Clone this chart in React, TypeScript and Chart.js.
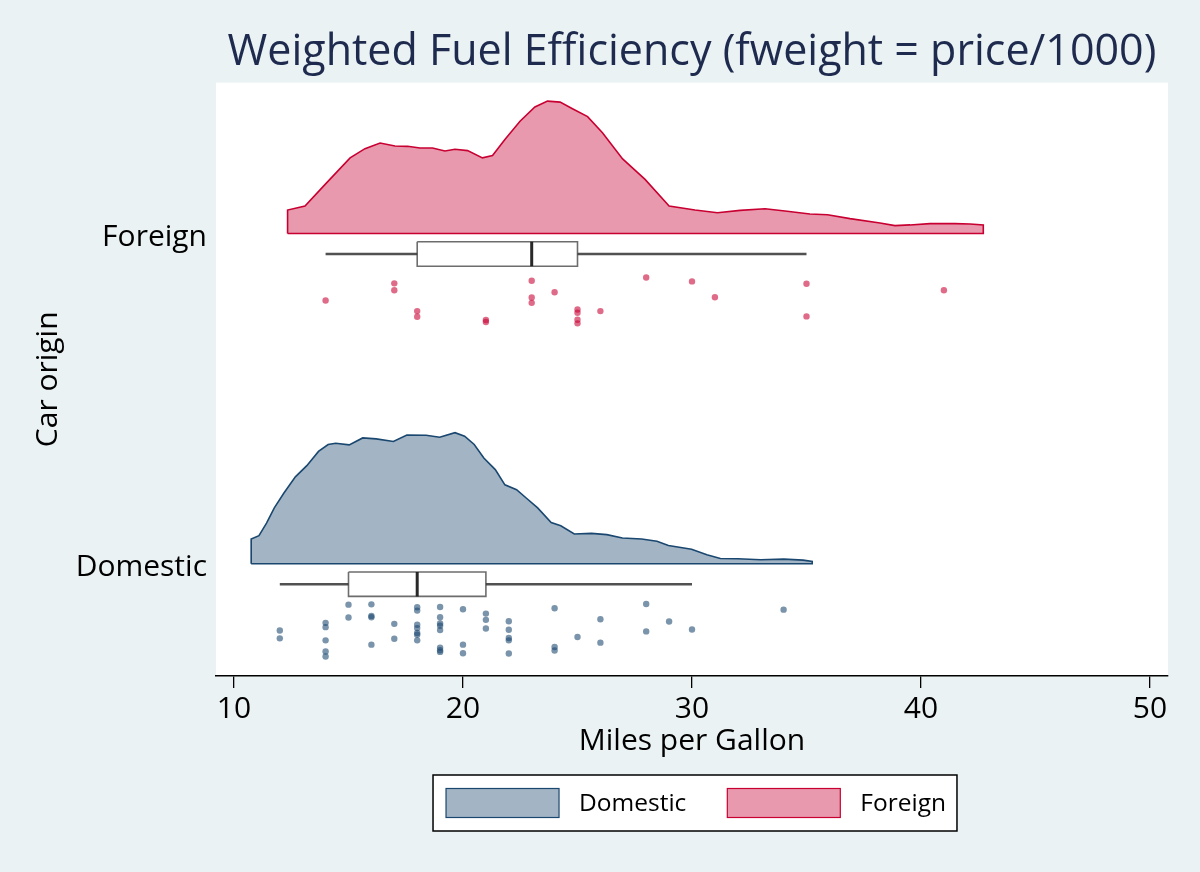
import { useEffect, useRef } from "react";
import { Chart, registerables } from "chart.js";

Chart.register(...registerables);

// categories on the vertical axis (bottom to top)
const categories = ["Domestic", "Foreign"];
const xTicks = [10, 20, 30, 40, 50];

// kernel density outline (mpg, height)
const domesticDensityX = [10.75, 11.09, 11.42, 11.76, 12.18, 12.68, 13.18, 13.69, 14.11, 14.44, 15.03, 15.62, 16.21, 16.96, 17.55, 18.39, 18.98, 19.65, 20.07, 20.49, 20.91, 21.41, 21.83, 22.34, 22.76, 23.26, 23.85, 24.27, 24.86, 25.61, 26.28, 26.96, 27.8, 28.47, 28.97, 29.98, 30.65, 31.24, 32.0, 33.0, 34.01, 34.85, 35.25];
const domesticDensityY = [0.075, 0.085, 0.123, 0.169, 0.214, 0.263, 0.297, 0.34, 0.361, 0.365, 0.36, 0.381, 0.378, 0.37, 0.39, 0.389, 0.383, 0.397, 0.386, 0.361, 0.32, 0.285, 0.239, 0.224, 0.199, 0.169, 0.125, 0.115, 0.09, 0.092, 0.088, 0.078, 0.075, 0.068, 0.055, 0.044, 0.027, 0.016, 0.015, 0.012, 0.014, 0.011, 0.007];
const foreignDensityX = [12.34, 13.1, 13.97, 15.07, 15.72, 16.38, 17.03, 17.58, 18.12, 18.67, 19.21, 19.65, 20.2, 20.85, 21.29, 21.83, 22.49, 23.14, 23.69, 24.24, 24.78, 25.44, 26.09, 26.97, 27.95, 29.0, 30.13, 31.11, 32.1, 33.19, 34.06, 35.15, 35.92, 36.9, 38.21, 38.86, 39.52, 40.39, 41.48, 42.14, 42.72];
const foreignDensityY = [0.071, 0.083, 0.148, 0.229, 0.257, 0.274, 0.265, 0.264, 0.259, 0.259, 0.25, 0.255, 0.251, 0.229, 0.236, 0.285, 0.34, 0.383, 0.401, 0.398, 0.378, 0.354, 0.305, 0.226, 0.164, 0.083, 0.071, 0.063, 0.07, 0.075, 0.068, 0.059, 0.057, 0.045, 0.032, 0.024, 0.026, 0.03, 0.03, 0.029, 0.026];

// box plot: lower whisker, q1, median, q3, upper whisker
const domesticBox = [12, 15, 18, 21, 30];
const foreignBox = [14, 18, 23, 25, 35];

// individual cars (mpg) and their vertical jitter below the category line
const domesticMpg = [12, 12, 14, 14, 14, 14, 14, 15, 15, 16, 16, 16, 16, 17, 17, 18, 18, 18, 18, 18, 18, 18, 19, 19, 19, 19, 19, 19, 19, 19, 20, 20, 20, 21, 21, 21, 22, 22, 22, 22, 22, 24, 24, 24, 25, 26, 26, 28, 28, 29, 30, 34];
const domesticJitter = [-0.202, -0.226, -0.179, -0.192, -0.232, -0.266, -0.281, -0.124, -0.163, -0.123, -0.158, -0.162, -0.245, -0.182, -0.227, -0.132, -0.142, -0.185, -0.195, -0.21, -0.215, -0.232, -0.131, -0.162, -0.181, -0.188, -0.201, -0.254, -0.262, -0.267, -0.138, -0.245, -0.271, -0.151, -0.17, -0.196, -0.174, -0.2, -0.225, -0.232, -0.272, -0.135, -0.252, -0.263, -0.222, -0.168, -0.239, -0.122, -0.205, -0.175, -0.199, -0.139];
const foreignMpg = [14, 17, 17, 18, 18, 21, 21, 23, 23, 23, 24, 25, 25, 25, 25, 26, 28, 30, 31, 35, 35, 41];
const foreignJitter = [-0.203, -0.151, -0.172, -0.235, -0.252, -0.262, -0.268, -0.143, -0.194, -0.21, -0.178, -0.23, -0.24, -0.261, -0.272, -0.235, -0.133, -0.145, -0.193, -0.152, -0.251, -0.172];

const BG = "#eaf2f3";
const FONT = "'Open Sans', 'Noto Sans', sans-serif";

const groups = [
  {
    name: "Domestic", base: 0,
    densX: domesticDensityX, densY: domesticDensityY, box: domesticBox,
    mpg: domesticMpg, jitter: domesticJitter,
    line: "rgb(26,71,111)", fill: "rgba(26,71,111,0.4)", dot: "rgba(26,71,111,0.58)",
  },
  {
    name: "Foreign", base: 1,
    densX: foreignDensityX, densY: foreignDensityY, box: foreignBox,
    mpg: foreignMpg, jitter: foreignJitter,
    line: "rgb(200,0,50)", fill: "rgba(200,0,50,0.4)", dot: "rgba(200,0,50,0.58)",
  },
];

const BOX_OFFSET = -0.062;
const BOX_HALF = 0.037;

function buildDatasets() {
  const out: any[] = [];
  for (const g of groups) {
    const n = g.densX.length;
    const outline = [
      { x: g.densX[0], y: g.base },
      ...g.densX.map((x, i) => ({ x, y: g.base + g.densY[i] })),
      { x: g.densX[n - 1], y: g.base },
      { x: g.densX[0], y: g.base },
    ];
    out.push({
      label: g.name, data: outline, fill: "shape",
      backgroundColor: g.fill, borderColor: g.line, borderWidth: 1.6,
      pointRadius: 0, order: 4,
    });
    const [lo, q1, med, q3, hi] = g.box;
    const c = g.base + BOX_OFFSET;
    out.push({
      label: g.name + " whisker", data: [{ x: lo, y: c }, { x: hi, y: c }],
      borderColor: "rgba(50,50,50,0.85)", borderWidth: 2.4, pointRadius: 0, fill: false, order: 3,
    });
    out.push({
      label: g.name + " box",
      data: [
        { x: q1, y: c + BOX_HALF }, { x: q3, y: c + BOX_HALF },
        { x: q3, y: c - BOX_HALF }, { x: q1, y: c - BOX_HALF }, { x: q1, y: c + BOX_HALF },
      ],
      fill: "shape", backgroundColor: "#ffffff", borderColor: "rgba(60,60,60,0.75)",
      borderWidth: 1.6, pointRadius: 0, order: 2,
    });
    out.push({
      label: g.name + " median", data: [{ x: med, y: c + BOX_HALF }, { x: med, y: c - BOX_HALF }],
      borderColor: "rgba(30,30,30,0.95)", borderWidth: 3, pointRadius: 0, fill: false, order: 1,
    });
    out.push({
      label: g.name + " cars",
      data: g.mpg.map((x, i) => ({ x, y: g.base + g.jitter[i] })),
      showLine: false, pointRadius: 3.2, pointBorderWidth: 0,
      pointBackgroundColor: g.dot, backgroundColor: g.dot, order: 0,
    });
  }
  return out;
}

const backgroundPlugin = {
  id: "bg",
  beforeDraw(chart: any) {
    const { ctx, chartArea } = chart;
    ctx.save();
    ctx.fillStyle = BG;
    ctx.fillRect(0, 0, chart.width, chart.height);
    ctx.fillStyle = "#ffffff";
    ctx.fillRect(chartArea.left, chartArea.top, chartArea.right - chartArea.left, chartArea.bottom - chartArea.top);
    ctx.restore();
  },
};

const legendPlugin = {
  id: "boxLegend",
  afterDraw(chart: any) {
    const { ctx, chartArea } = chart;
    ctx.save();
    ctx.font = `24.5px ${FONT}`;
    const w = groups.map((g) => ctx.measureText(g.name).width);
    const pad = 13, sw = 113, sh = 29, gapText = 20, gapItem = 41, h = 56;
    const total = pad + sw + gapText + w[0] + gapItem + sw + gapText + w[1] + pad - 2;
    const cx = (chartArea.left + chartArea.right) / 2 + 3;
    const left = cx - total / 2;
    const top = chart.scales.x.bottom + 9;
    ctx.fillStyle = "#ffffff";
    ctx.fillRect(left, top, total, h);
    ctx.strokeStyle = "#000";
    ctx.lineWidth = 1.5;
    ctx.strokeRect(left, top, total, h);
    let x = left + pad;
    groups.forEach((g, i) => {
      const y = top + (h - sh) / 2;
      ctx.fillStyle = "#ffffff";
      ctx.fillRect(x, y, sw, sh);
      ctx.fillStyle = g.fill;
      ctx.fillRect(x, y, sw, sh);
      ctx.strokeStyle = g.line;
      ctx.lineWidth = 1.2;
      ctx.strokeRect(x, y, sw, sh);
      ctx.fillStyle = "#000";
      ctx.textBaseline = "middle";
      ctx.textAlign = "left";
      ctx.fillText(g.name, x + sw + gapText, top + h / 2 + 1);
      x += sw + gapText + w[i] + gapItem;
    });
    ctx.restore();
  },
};

export default function App() {
  const canvasRef = useRef<HTMLCanvasElement>(null);

  useEffect(() => {
    document.body.style.margin = "0";
    if (!canvasRef.current) return;

    const chart = new Chart(canvasRef.current, {
      type: "line",
      data: { datasets: buildDatasets() },
      plugins: [backgroundPlugin, legendPlugin],
      options: {
        responsive: true,
        maintainAspectRatio: false,
        animation: false,
        layout: { padding: { left: 0, right: 32, top: 0, bottom: 106 } },
        font: { family: FONT } as any,
        plugins: {
          legend: { display: false },
          tooltip: { enabled: false },
          title: {
            display: true,
            text: "Weighted Fuel Efficiency (fweight = price/1000)",
            color: "#1e2b4f",
            font: { family: FONT, size: 43, weight: "normal" },
            padding: { top: 27, bottom: 4 },
            fullSize: false,
          },
        },
        scales: {
          x: {
            type: "linear",
            min: 9.214,
            max: 50.786,
            afterBuildTicks: (s: any) => { s.ticks = xTicks.map((v) => ({ value: v })); },
            afterFit: (s: any) => { s.height = 90; },
            ticks: { color: "#000", font: { family: FONT, size: 30 }, padding: 3 },
            grid: { drawOnChartArea: false, drawTicks: true, tickLength: 12, color: "#000", lineWidth: 1.3 },
            border: { display: true, color: "#000", width: 1.5 },
            title: {
              display: true, text: "Miles per Gallon", color: "#000",
              font: { family: FONT, size: 30 }, padding: { top: 0, bottom: 7 },
            },
          },
          y: {
            type: "linear",
            min: -0.34,
            max: 1.457,
            afterBuildTicks: (s: any) => { s.ticks = categories.map((_, i) => ({ value: i })); },
            afterFit: (s: any) => { s.width = 216; },
            ticks: {
              color: "#000", font: { family: FONT, size: 30 }, padding: 9, labelOffset: 3.5,
              callback: (v: any) => categories[v] ?? "",
            },
            grid: { display: false, drawTicks: false },
            border: { display: false },
            title: {
              display: true, text: "Car origin", color: "#000",
              font: { family: FONT, size: 30 }, padding: { top: 30, bottom: 0 },
            },
          },
        },
      },
    });

    return () => chart.destroy();
  }, []);

  return (
    <div style={{ position: "fixed", left: 0, top: 0, width: 1200, height: 872 }}>
      <canvas ref={canvasRef}></canvas>
    </div>
  );
}
